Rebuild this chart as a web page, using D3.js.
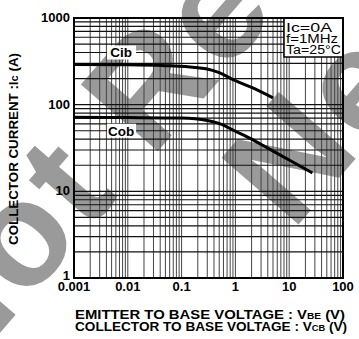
<!DOCTYPE html>
<html>
<head>
<meta charset="utf-8">
<script src="https://cdn.jsdelivr.net/npm/d3@7"></script>
<style>
  html, body { margin: 0; padding: 0; background: #fff; }
  svg { display: block; font-family: "Liberation Sans", Arial, sans-serif; }
</style>
</head>
<body>
<svg id="chart" width="359" height="339"></svg>
<script>
// Capacitance vs voltage curves on a log-log grid.
const xTickVals = [0.001, 0.01, 0.1, 1, 10, 100];
const xTickLabels = ["0.001", "0.01", "0.1", "1", "10", "100"];
const yTickVals = [1, 10, 100, 1000];
const yTickLabels = ["1", "10", "100", "1000"];

const cibV = [0.001, 0.01, 0.05, 0.12, 0.3, 0.5, 0.9, 2, 5];
const cibC = [290, 288, 282, 275, 258, 234, 195, 158, 120];
const cobV = [0.001, 0.01, 0.1, 0.3, 0.6, 0.9, 2, 4, 10, 27];
const cobC = [71.5, 71, 70, 65.5, 58, 51, 40, 31.5, 23, 16.3];

const conditions = ["Ic=0A", "f=1MHz", "Ta=25°C"];
const watermark = ["Not Recommended", "New Design"];

const W = 359, H = 339;
const margin = { top: 18, right: 16, bottom: 61, left: 74 };
const svg = d3.select("#chart");

const x = d3.scaleLog().domain([0.001, 100]).range([margin.left, W - margin.right]);
const y = d3.scaleLog().domain([1, 1000]).range([H - margin.bottom, margin.top]);

// grey watermark, drawn first so everything sits over it
const wm = svg.append("g").attr("fill", "#9a9a9a").attr("font-weight", "bold")
  .attr("font-size", 148).attr("letter-spacing", 4);
wm.append("text").attr("transform", "translate(-48,388) rotate(-49)").text(watermark[0]);
wm.append("text").attr("transform", "translate(292,232) rotate(-49)").text(watermark[1]);

// log grid: every 1..9 in each decade
const minor = (lo, hi) => {
  const out = [];
  for (let p = Math.log10(lo); p < Math.log10(hi); p++)
    for (let k = 1; k < 10; k++) out.push(k * Math.pow(10, p));
  return out;
};
const grid = svg.append("g");
grid.selectAll(".vg").data(minor(0.001, 100)).join("line")
  .attr("x1", d => x(d)).attr("x2", d => x(d))
  .attr("y1", margin.top).attr("y2", H - margin.bottom)
  .attr("stroke", "#444").attr("stroke-width", 1);
grid.selectAll(".hg").data(minor(1, 1000)).join("line")
  .attr("y1", d => y(d)).attr("y2", d => y(d))
  .attr("x1", margin.left).attr("x2", W - margin.right)
  .attr("stroke", "#111").attr("stroke-width", 1.2);

// curves
const line = d3.line().x(d => x(d[0])).y(d => y(d[1])).curve(d3.curveMonotoneX);
svg.append("path").datum(d3.zip(cibV, cibC)).attr("d", line)
  .attr("fill", "none").attr("stroke", "#000").attr("stroke-width", 3);
svg.append("path").datum(d3.zip(cobV, cobC)).attr("d", line)
  .attr("fill", "none").attr("stroke", "#000").attr("stroke-width", 3);

// curve labels on white patches
const curveLabels = [["Cib", 0.0075, 400], ["Cob", 0.0075, 50]];
curveLabels.forEach(([t, v, c]) => {
  svg.append("rect").attr("x", x(v) - 14).attr("y", y(c) - 7).attr("width", 29).attr("height", 14).attr("fill", "#fff");
  svg.append("text").attr("x", x(v)).attr("y", y(c) + 5).attr("text-anchor", "middle")
    .attr("font-size", 13.5).attr("font-weight", "bold").text(t);
});

// conditions box
const bx = 284, by = margin.top;
svg.append("rect").attr("x", bx).attr("y", by).attr("width", W - margin.right - bx).attr("height", 39)
  .attr("fill", "#fff").attr("stroke", "#000").attr("stroke-width", 1.5);
svg.selectAll(".cond").data(conditions).join("text")
  .attr("x", bx + 2).attr("y", (d, i) => by + 13.5 + i * 11.3)
  .attr("font-size", 12.5).attr("textLength", (d, i) => [46, 52, 55][i]).attr("lengthAdjust", "spacingAndGlyphs")
  .text(d => d);

// frame
svg.append("rect").attr("x", margin.left).attr("y", margin.top)
  .attr("width", W - margin.right - margin.left).attr("height", H - margin.bottom - margin.top)
  .attr("fill", "none").attr("stroke", "#000").attr("stroke-width", 2);

// tick labels
svg.selectAll(".xt").data(xTickVals).join("text")
  .attr("x", d => x(d)).attr("y", H - margin.bottom + 13).attr("text-anchor", "middle")
  .attr("font-size", 13).attr("font-weight", "bold").text((d, i) => xTickLabels[i]);
svg.selectAll(".yt").data(yTickVals).join("text")
  .attr("x", margin.left - 4).attr("y", d => y(d) + (d === 1 ? 2 : 4)).attr("text-anchor", "end")
  .attr("font-size", 13).attr("font-weight", "bold").text((d, i) => yTickLabels[i]);

// axis titles
const yt = svg.append("text").attr("transform", "translate(18,149) rotate(-90)")
  .attr("text-anchor", "middle").attr("font-size", 12).attr("font-weight", "bold")
  .attr("textLength", 192).attr("lengthAdjust", "spacingAndGlyphs");
yt.append("tspan").text("COLLECTOR CURRENT :I");
yt.append("tspan").attr("font-size", 10).text("c");
yt.append("tspan").text(" (A)");

const xt1 = svg.append("text").attr("x", 75).attr("y", 319).attr("font-size", 12.5).attr("font-weight", "bold")
  .attr("textLength", 270).attr("lengthAdjust", "spacingAndGlyphs");
xt1.append("tspan").text("EMITTER TO BASE VOLTAGE : V");
xt1.append("tspan").attr("font-size", 8.5).text("BE");
xt1.append("tspan").text(" (V)");
const xt2 = svg.append("text").attr("x", 75).attr("y", 331).attr("font-size", 12.5).attr("font-weight", "bold")
  .attr("textLength", 272).attr("lengthAdjust", "spacingAndGlyphs");
xt2.append("tspan").text("COLLECTOR TO BASE VOLTAGE : V");
xt2.append("tspan").attr("font-size", 8.5).text("CB");
xt2.append("tspan").text(" (V)");
</script>
</body>
</html>
